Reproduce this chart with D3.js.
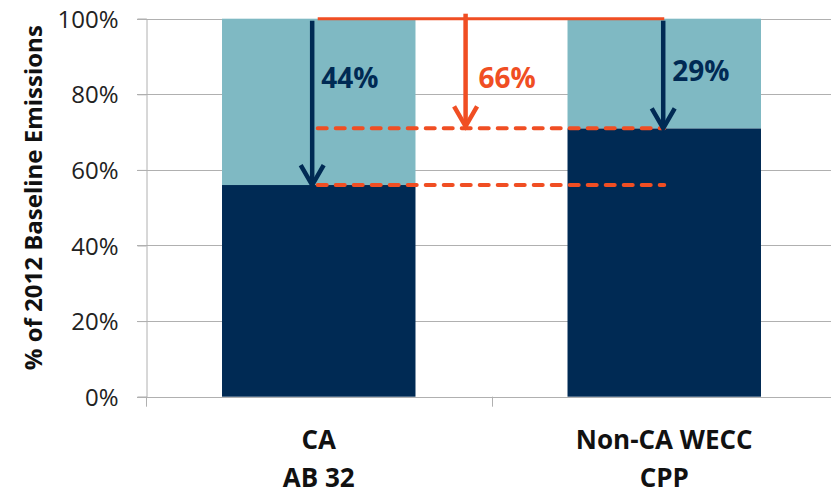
<!DOCTYPE html>
<html>
<head>
<meta charset="utf-8">
<script src="https://cdn.jsdelivr.net/npm/d3@7"></script>
<style>
  html, body { margin: 0; padding: 0; background: #fff; }
  svg { display: block; }
  text { font-family: "Open Sans", "DejaVu Sans", sans-serif; }
</style>
</head>
<body>
<svg id="chart" width="831" height="496"></svg>
<script>
// ---- data ----
const categories = ["CA\nAB 32", "Non-CA WECC\nCPP"];
const remaining = [0.56, 0.71];     // share of 2012 baseline emissions remaining
const reduction = [0.44, 0.29];     // reduction from baseline
const reductionLabels = ["44%", "29%"];
const gapLabel = "66%";
const yTicks = [0, 0.2, 0.4, 0.6, 0.8, 1.0];
const yTitle = "% of 2012 Baseline Emissions";

// ---- styles ----
const NAVY = "#002a54";
const TEAL = "#7fb9c3";
const ORANGE = "#f04e23";
const GRID = "#b0b0b0";

(function () {
const svg = d3.select("#chart");
const mL = 146, mR = 837, mT = 18.7, mB = 396.7;

const x = d3.scaleBand().domain(categories).range([mL, mR]).paddingInner(0).paddingOuter(0);
const y = d3.scaleLinear().domain([0, 1]).range([mB, mT]);
const xc = d3.scaleLinear().domain([0, 1])
  .range([x(categories[0]) + x.bandwidth() / 2, x(categories[1]) + x.bandwidth() / 2]);
const barFrac = 0.56;

// gridlines
svg.append("g").selectAll("line").data(yTicks).join("line")
  .attr("x1", mL - 9).attr("x2", mR)
  .attr("y1", d => Math.round(y(d)) + 0.5).attr("y2", d => Math.round(y(d)) + 0.5)
  .attr("stroke", GRID).attr("stroke-width", 1);

// y axis
const yAxis = svg.append("g").attr("transform", `translate(${mL + 0.5},0)`)
  .call(d3.axisLeft(y).tickValues(yTicks).tickFormat(d3.format(".0%")).tickSize(9).tickPadding(19));
yAxis.select(".domain").attr("stroke", GRID);
yAxis.selectAll(".tick line").attr("stroke", GRID);
yAxis.selectAll(".tick text").attr("font-size", 24).attr("fill", "#222")
  .attr("font-family", "'Open Sans', sans-serif").attr("dy", "0.36em");

// x axis boundary ticks
const bounds = [mL, x(categories[1]), mR];
svg.append("g").selectAll("line").data(bounds).join("line")
  .attr("x1", d => Math.round(d) + 0.5).attr("x2", d => Math.round(d) + 0.5)
  .attr("y1", mB).attr("y2", mB + 10)
  .attr("stroke", GRID);

// bars
const rows = categories.map((c, i) => ({ c, rem: remaining[i], red: reduction[i] }));
const bx = d => x(d.c) + x.bandwidth() * (1 - barFrac) / 2;
svg.append("g").selectAll("rect").data(rows).join("rect")
  .attr("x", bx).attr("width", x.bandwidth() * barFrac)
  .attr("y", d => y(d.rem)).attr("height", d => y(0) - y(d.rem))
  .attr("fill", NAVY);
svg.append("g").selectAll("rect").data(rows).join("rect")
  .attr("x", bx).attr("width", x.bandwidth() * barFrac)
  .attr("y", d => y(d.rem + d.red)).attr("height", d => y(d.rem) - y(d.rem + d.red))
  .attr("fill", TEAL);

// category labels
const cat = svg.append("g").selectAll("text").data(categories).join("text")
  .attr("x", d => x(d) + x.bandwidth() / 2)
  .attr("text-anchor", "middle")
  .attr("font-size", 26).attr("font-weight", 700).attr("fill", "#111");
cat.selectAll("tspan").data(d => d.split("\n")).join("tspan")
  .attr("x", function () { return d3.select(this.parentNode).attr("x"); })
  .attr("y", (d, i) => 449 + i * 38)
  .text(d => d);

// y title
svg.append("text")
  .attr("transform", `translate(42,${(mT + mB) / 2 - 10}) rotate(-90)`)
  .attr("text-anchor", "middle")
  .attr("font-size", 24).attr("font-weight", 700).attr("fill", "#111")
  .text(yTitle);

// ---- annotations ----
const ann = svg.append("g");
ann.append("line")
  .attr("x1", xc(-0.003)).attr("x2", xc(1.0)).attr("y1", y(1)).attr("y2", y(1))
  .attr("stroke", ORANGE).attr("stroke-width", 3);
ann.selectAll("line.dash").data(remaining).join("line")
  .attr("class", "dash")
  .attr("x1", xc(-0.003)).attr("x2", xc(1.0))
  .attr("y1", d => y(d)).attr("y2", d => y(d))
  .attr("stroke", ORANGE).attr("stroke-width", 4)
  .attr("stroke-dasharray", "9 9").attr("stroke-linecap", "round");

function arrow(g, cx, y0, y1, color, w) {
  g.append("line").attr("x1", cx).attr("x2", cx).attr("y1", y0).attr("y2", y1 - 2)
    .attr("stroke", color).attr("stroke-width", w);
  g.append("path")
    .attr("d", `M${cx - 11.5},${y1 - 20} L${cx},${y1} L${cx + 11.5},${y1 - 20}`)
    .attr("fill", "none").attr("stroke", color).attr("stroke-width", w)
    .attr("stroke-linejoin", "miter").attr("stroke-linecap", "butt");
}
const arrowPos = [-0.019, 0.997];
rows.forEach((d, i) => {
  arrow(ann, xc(arrowPos[i]), y(d.rem + d.red) + 2, y(d.rem), NAVY, 4.5);
});
arrow(ann, xc(0.425), y(1) - 5, y(remaining[1]) - 2, ORANGE, 4.5);

const labelBase = [87.5, 81];
rows.forEach((d, i) => {
  ann.append("text")
    .attr("x", xc(arrowPos[i]) + 9).attr("y", labelBase[i])
    .attr("font-size", 28).attr("font-weight", 700).attr("fill", NAVY)
    .text(reductionLabels[i]);
});
ann.append("text")
  .attr("x", xc(0.425) + 13).attr("y", 87.5)
  .attr("font-size", 28).attr("font-weight", 700).attr("fill", ORANGE)
  .text(gapLabel);
})();
</script>
</body>
</html>
